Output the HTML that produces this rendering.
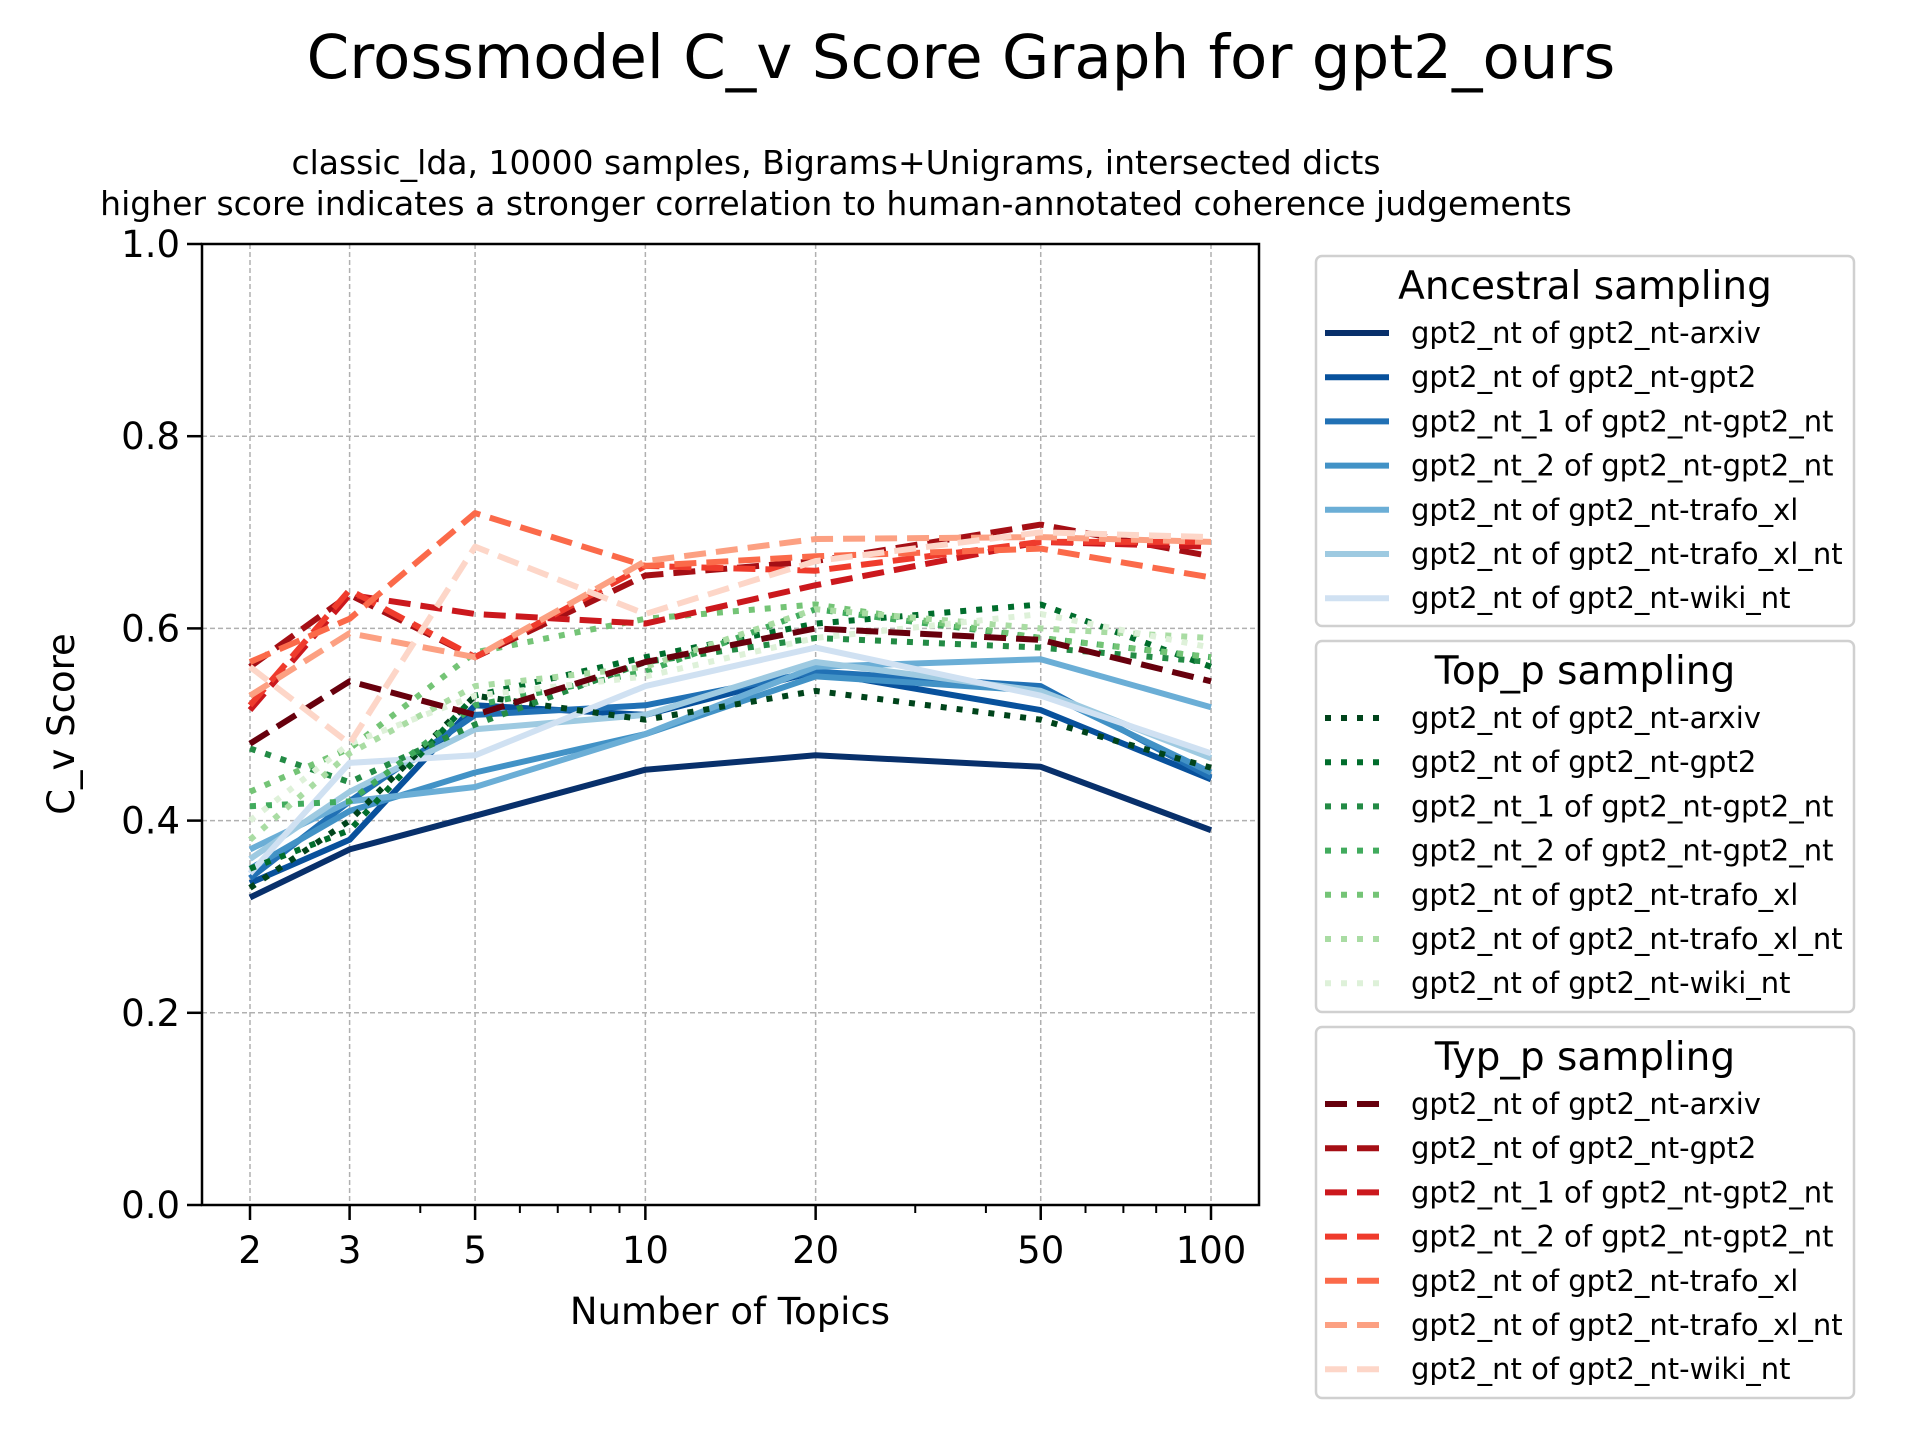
<!DOCTYPE html>
<html><head><meta charset="utf-8"><style>
html,body{margin:0;padding:0;background:#fff;}
svg{display:block;font-family:"DejaVu Sans","Liberation Sans",sans-serif;}
</style></head><body>
<svg id="chart" width="1920" height="1440" viewBox="0 0 1920 1440" xmlns="http://www.w3.org/2000/svg">
<rect width="1920" height="1440" fill="#fff"/>
<text x="961" y="78" font-size="61" text-anchor="middle">Crossmodel C_v Score Graph for gpt2_ours</text>
<text x="836" y="174" font-size="33" text-anchor="middle">classic_lda, 10000 samples, Bigrams+Unigrams, intersected dicts</text>
<text x="836" y="215" font-size="33" text-anchor="middle">higher score indicates a stronger correlation to human-annotated coherence judgements</text>
<g id="grid"></g>
<g id="axes"></g>
<g id="series"></g>
<g id="legend"></g>
<text x="730" y="1324" font-size="37" text-anchor="middle">Number of Topics</text>
<text x="0" y="0" font-size="37" text-anchor="middle" transform="translate(74,724) rotate(-90)">C_v Score</text>
</svg>
<script>
const xCats=[2,3,5,10,20,50,100];
const yTicks=[0,0.2,0.4,0.6,0.8,1.0];
const yTickLabels=["0.0","0.2","0.4","0.6","0.8","1.0"];
const minorX=[4,6,7,8,9,30,40,60,70,80,90];
const seriesNames=["gpt2_nt of gpt2_nt-arxiv","gpt2_nt of gpt2_nt-gpt2","gpt2_nt_1 of gpt2_nt-gpt2_nt","gpt2_nt_2 of gpt2_nt-gpt2_nt","gpt2_nt of gpt2_nt-trafo_xl","gpt2_nt of gpt2_nt-trafo_xl_nt","gpt2_nt of gpt2_nt-wiki_nt"];
const ancestral=[
[0.32,0.37,0.405,0.453,0.468,0.456,0.39],
[0.335,0.38,0.52,0.51,0.555,0.515,0.443],
[0.34,0.42,0.51,0.52,0.555,0.54,0.445],
[0.35,0.41,0.45,0.49,0.55,0.535,0.45],
[0.37,0.42,0.435,0.49,0.56,0.568,0.518],
[0.36,0.43,0.495,0.51,0.565,0.535,0.465],
[0.345,0.46,0.468,0.54,0.58,0.53,0.47]];
const topP=[
[0.33,0.40,0.53,0.505,0.535,0.505,0.455],
[0.35,0.39,0.53,0.57,0.605,0.625,0.56],
[0.475,0.44,0.50,0.565,0.59,0.58,0.565],
[0.415,0.42,0.52,0.555,0.62,0.59,0.57],
[0.43,0.475,0.575,0.61,0.625,0.59,0.57],
[0.38,0.47,0.54,0.56,0.62,0.60,0.59],
[0.40,0.48,0.53,0.55,0.59,0.615,0.58]];
const typP=[
[0.48,0.545,0.51,0.565,0.60,0.588,0.545],
[0.56,0.635,0.57,0.655,0.67,0.708,0.675],
[0.515,0.635,0.615,0.605,0.645,0.69,0.685],
[0.52,0.64,0.57,0.665,0.66,0.69,0.69],
[0.565,0.61,0.72,0.665,0.675,0.683,0.653],
[0.53,0.595,0.57,0.67,0.693,0.695,0.69],
[0.56,0.48,0.685,0.615,0.67,0.70,0.695]];
const blues=["#08306b","#08519c","#2171b5","#4292c6","#6baed6","#9ecae1","#d0e1f2"];
const greens=["#00441b","#006d2c","#238b45","#41ab5d","#74c476","#a9dca3","#def1d9"];
const reds=["#67000d","#a50f15","#cb181d","#ef3b2c","#fb6a4a","#fca082","#fdd6c8"];
const NS="http://www.w3.org/2000/svg";
const L=202,R=1259,T=244,B=1205,X0=250,X1=1211;
function xs(v){return X0+(Math.log10(v)-Math.log10(2))/(Math.log10(100)-Math.log10(2))*(X1-X0);}
function ys(v){return B-v*(B-T);}
function mk(tag,at,parent){const e=document.createElementNS(NS,tag);for(const k in at)e.setAttribute(k,at[k]);parent.appendChild(e);return e;}
const grid=document.getElementById('grid'),axes=document.getElementById('axes'),ser=document.getElementById('series'),leg=document.getElementById('legend');
xCats.forEach(v=>{const l=mk('line',{x1:xs(v),x2:xs(v),y1:T,y2:B,stroke:'#b0b0b0','stroke-width':1.5,'stroke-dasharray':'5,3'},grid);
});
yTicks.forEach(v=>{const l=mk('line',{x1:L,x2:R,y1:ys(v),y2:ys(v),stroke:'#b0b0b0','stroke-width':1.5,'stroke-dasharray':'5,3'},grid);
});
const fr=mk('rect',{x:L,y:T,width:R-L,height:B-T,fill:'none',stroke:'#000','stroke-width':2.5},axes);

xCats.forEach(v=>{mk('line',{x1:xs(v),x2:xs(v),y1:B,y2:B+15,stroke:'#000','stroke-width':2.5},axes);
const t=mk('text',{x:xs(v),y:B+58,'font-size':37,'text-anchor':'middle'},axes);t.textContent=v;
});
minorX.forEach(v=>{mk('line',{x1:xs(v),x2:xs(v),y1:B,y2:B+8,stroke:'#000','stroke-width':2},axes);});
yTicks.forEach((v,i)=>{mk('line',{x1:L-15,x2:L,y1:ys(v),y2:ys(v),stroke:'#000','stroke-width':2.5},axes);
const t=mk('text',{x:L-22,y:ys(v)+13,'font-size':37,'text-anchor':'end'},axes);t.textContent=yTickLabels[i];
});
const groups=[{title:"Ancestral sampling",data:ancestral,cols:blues,dash:null,key:'ancestral'},
{title:"Top_p sampling",data:topP,cols:greens,dash:'6,10',key:'top-p'},
{title:"Typ_p sampling",data:typP,cols:reds,dash:'22,10',key:'typ-p'}];
groups.forEach(g=>{g.data.forEach((vals,i)=>{
const d=vals.map((v,j)=>(j?'L':'M')+xs(xCats[j]).toFixed(1)+','+ys(v).toFixed(1)).join(' ');
const at={d:d,fill:'none',stroke:g.cols[i],'stroke-width':6,'stroke-linejoin':'round'};
if(g.dash)at['stroke-dasharray']=g.dash;
const p=mk('path',at,ser);

});});
const boxes=[[256,370],[641,371],[1027,371]];
groups.forEach((g,gi)=>{const y0=boxes[gi][0];
const b=mk('rect',{x:1316,y:y0,width:538,height:boxes[gi][1],rx:6,fill:'#fff',stroke:'#d0d0d0','stroke-width':2.5},leg);

const t=mk('text',{x:1585,y:y0+43,'font-size':39,'text-anchor':'middle'},leg);t.textContent=g.title;

seriesNames.forEach((n,i)=>{const yy=y0+77+i*44.2;
const at={x1:1325,x2:1389,y1:yy,y2:yy,stroke:g.cols[i],'stroke-width':6};if(g.dash)at['stroke-dasharray']=g.dash;
mk('line',at,leg);
const tx=mk('text',{x:1411,y:yy+10,'font-size':29},leg);tx.textContent=n;
});});
</script>
</body></html>
